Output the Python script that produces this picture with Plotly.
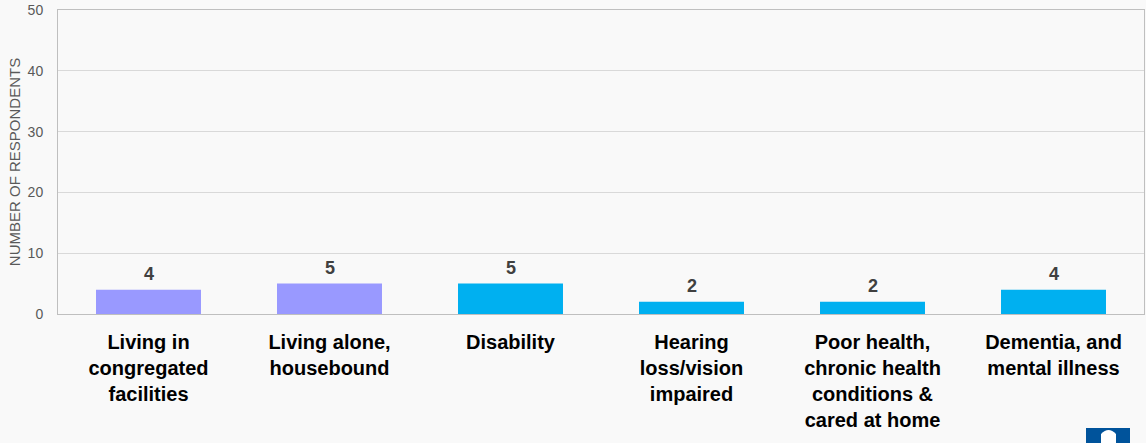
import plotly.graph_objects as go

categories = [
    "Living in<br>congregated<br>facilities",
    "Living alone,<br>housebound",
    "Disability",
    "Hearing<br>loss/vision<br>impaired",
    "Poor health,<br>chronic health<br>conditions &<br>cared at home",
    "Dementia, and<br>mental illness",
]
values = [4, 5, 5, 2, 2, 4]
bar_colors = ["#9999ff", "#9999ff", "#00b0f0", "#00b0f0", "#00b0f0", "#00b0f0"]
y_ticks = [0, 10, 20, 30, 40, 50]

W, H = 1146, 443
L, R, T, B = 58, 2, 10, 129
pw, ph = W - L - R, H - T - B


def px(x):
    return (x - L) / pw


def py(y):
    return (H - B - y) / ph


fig = go.Figure(
    go.Bar(
        x=categories,
        y=values,
        marker=dict(color=bar_colors, line=dict(width=0)),
    )
)

for c, v in zip(categories, values):
    fig.add_annotation(
        x=c, y=v, text=str(v), showarrow=False,
        yanchor="bottom", yshift=4,
        font=dict(family="Liberation Sans, Arial", size=18, color="#404040", weight="bold"),
    )

fig.update_layout(
    width=W,
    height=H,
    margin=dict(l=L, r=R, t=T, b=B),
    paper_bgcolor="#f9f9f9",
    plot_bgcolor="#f9f9f9",
    bargap=0.42,
    showlegend=False,
    font=dict(family="Liberation Sans, Arial"),
)

fig.update_yaxes(
    range=[0, 50],
    tickvals=y_ticks,
    tickfont=dict(size=14, color="#595959"),
    ticklabelstandoff=11,
    gridcolor="#d9d9d9",
    gridwidth=1,
    showline=True,
    linecolor="#bfbfbf",
    mirror=True,
    zeroline=False,
    title=dict(text="NUMBER OF RESPONDENTS", font=dict(size=15, color="#595959"), standoff=3),
)
fig.update_xaxes(
    tickfont=dict(size=20, color="#000000", weight="bold"),
    ticklabelstandoff=10,
    showline=True,
    linecolor="#bfbfbf",
    mirror=True,
    tickangle=0,
)

# logo fragment in bottom-right corner
fig.add_shape(type="rect", xref="paper", yref="paper",
              x0=px(1086), x1=px(1130), y0=py(443), y1=py(428),
              fillcolor="#00539b", line=dict(width=0), layer="above")
fig.add_shape(type="path", xref="paper", yref="paper",
              path=f"M {px(1101)} {py(443)} L {px(1101)} {py(434)} Q {px(1108.5)} {py(426)} {px(1116)} {py(434)} L {px(1116)} {py(443)} Z",
              fillcolor="#ffffff", line=dict(width=0), layer="above")

fig.write_html(
    "out.html",
    config={"displayModeBar": False},
    post_script="document.body.style.margin='0';document.body.style.background='#f9f9f9';document.body.style.overflow='hidden';",
)
